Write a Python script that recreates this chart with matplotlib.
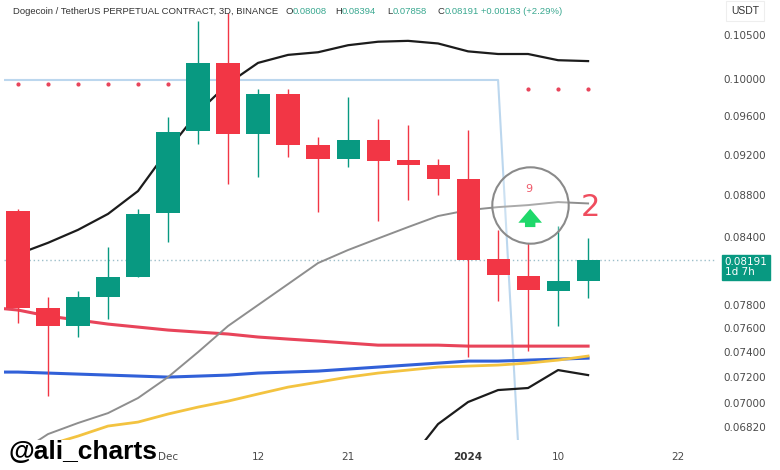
import numpy as np
import matplotlib
matplotlib.use("Agg")
import matplotlib.pyplot as plt

nan = np.nan

# 3D candles, DOGE/USDT perp (Binance)
opens = [0.0865, 0.0777, 0.0762, 0.0787, 0.0804, 0.0863, 0.0944, 0.1018, 0.0941, 0.0984,
         0.0930, 0.0916, 0.0935, 0.0915, 0.0910, 0.0896, 0.0820, 0.0805, 0.0792, 0.08008]
highs = [0.0867, 0.0787, 0.0792, 0.0831, 0.0867, 0.0959, 0.1066, 0.1075, 0.0989, 0.0989,
         0.0938, 0.0980, 0.0957, 0.0951, 0.0916, 0.0945, 0.0847, 0.0835, 0.0851, 0.08394]
lows = [0.0764, 0.0705, 0.0753, 0.0768, 0.0804, 0.0836, 0.0931, 0.0891, 0.0898, 0.0918,
        0.0864, 0.0908, 0.0855, 0.0875, 0.0880, 0.0736, 0.0783, 0.0741, 0.0762, 0.07858]
closes = [0.0777, 0.0762, 0.0787, 0.0804, 0.0862, 0.0943, 0.1018, 0.0941, 0.0984, 0.0930,
          0.0916, 0.0935, 0.0914, 0.0910, 0.0896, 0.0819, 0.0806, 0.0793, 0.0801, 0.08191]

# indicator lines, one value per bar from bar -1 to bar 19
ma_red = [0.07779, 0.07754, 0.07703, 0.07669, 0.07635, 0.0761, 0.07585, 0.07568, 0.07552, 0.07527,
          0.0751, 0.07494, 0.07477, 0.0746, 0.0746, 0.0746, 0.07452, 0.07452, 0.07452, 0.07452, 0.07452]
ma_blue = [0.07242, 0.07242, 0.07234, 0.07226, 0.07218, 0.0721, 0.07202, 0.0721, 0.07218, 0.07234,
           0.07242, 0.0725, 0.07266, 0.07282, 0.07298, 0.07314, 0.0733, 0.0733, 0.07338, 0.07346, 0.07354]
ma_yellow = [nan, 0.0655, 0.06683, 0.06749, 0.06824, 0.06854, 0.06915, 0.06968, 0.07014, 0.07069,
             0.07123, 0.07162, 0.07202, 0.07234, 0.07258, 0.07282, 0.0729, 0.07298, 0.07314, 0.07338, 0.07371]
bb_mid = [nan, 0.0662, 0.06764, 0.06847, 0.06922, 0.07038, 0.07202, 0.07403, 0.07619, 0.07797,
          0.07979, 0.08166, 0.08284, 0.0839, 0.08496, 0.0860, 0.08656, 0.08685, 0.08704, 0.08733, 0.0872]
bb_upper = [nan, 0.08247, 0.0835, 0.0847, 0.0862, 0.0884, 0.0925, 0.0964, 0.0995, 0.1018,
            0.1027, 0.1030, 0.1038, 0.1042, 0.1043, 0.1040, 0.1031, 0.1028, 0.1028, 0.1021, 0.1020]
bb_lower = [nan, nan, nan, nan, nan, nan, nan, nan, nan, nan,
            nan, nan, nan, 0.0629, 0.06558, 0.06839, 0.07007, 0.0710, 0.07116, 0.07258, 0.07218]
trail = [0.0999] * 18 + [0.0548, nan, nan]

dots_left_x = [0, 1, 2, 3, 4, 5]
dots_left_y = [0.09945] * 6
dots_right_x = [17, 18, 19]
dots_right_y = [0.0989] * 3

yticks = [0.105, 0.100, 0.096, 0.092, 0.088, 0.084, 0.078, 0.076, 0.074, 0.072, 0.070, 0.0682]
date_pos = [5, 8, 11, 15, 18, 22]
date_labels = ["Dec", "12", "21", "2024", "10", "22"]

last_price = 0.08191

W, H = 780, 470
GREEN = "#089981"
RED = "#f23645"

fig = plt.figure(figsize=(7.8, 4.7), dpi=100)
ax = fig.add_axes([4 / W, 1 - 440 / H, (715 - 4) / W, 440 / H])

bars = np.arange(len(opens))
line_x = np.arange(-1, len(opens))

ax.set_yscale("log")
ax.set_xlim(-0.467, 23.23)
ax.set_ylim(0.0672, 0.1091)

# lines behind the candles
ax.plot(line_x, trail, color="#bcd7ee", lw=1.5, zorder=1)
ax.axhline(last_price, color="#9dbfca", lw=1, ls=(0, (1, 2)), zorder=1)
ax.plot(line_x, ma_red, color="#e8445a", lw=2.2, zorder=2)
ax.plot(line_x, ma_blue, color="#3160d8", lw=2.2, zorder=2)
ax.plot(line_x, ma_yellow, color="#f3c340", lw=2, zorder=2)
ax.plot(line_x, bb_mid, color="#8e8e8e", lw=1.4, zorder=2)
ax.plot(line_x, bb_upper, color="#1c1c1c", lw=1.6, zorder=2)
ax.plot(line_x, bb_lower, color="#1c1c1c", lw=1.6, zorder=2)
ax.scatter(dots_left_x, dots_left_y, s=4, color="#e8445a", zorder=2)
ax.scatter(dots_right_x, dots_right_y, s=4, color="#e8445a", zorder=2)

# candles
o = np.array(opens); c = np.array(closes)
cols = [GREEN if cc >= oo else RED for oo, cc in zip(o, c)]
ax.vlines(bars, lows, highs, colors=cols, lw=1, zorder=3)
ax.bar(bars, np.abs(c - o), bottom=np.minimum(o, c), width=0.77, color=cols, zorder=4)

# TD sequential style markup
cx, cy = 17.07, 0.08704
ax.plot([cx], [cy], marker="o", ms=55, mfc=(1, 1, 1, 0.25), mec="#8a8a8a", mew=1.5, zorder=5)
ax.text(17.03, 0.08859, "9", color="#ef5a6a", fontsize=8, ha="center", va="center", zorder=6)
ax.annotate("", xy=(17.07, 0.08695), xytext=(17.07, 0.0847),
            arrowprops=dict(arrowstyle="simple,head_length=1.0,head_width=1.7,tail_width=0.75",
                            color="#1fd86a", lw=0), zorder=6)
ax.text(19.07, 0.0868, "2", color="#ef4d5e", fontsize=22, ha="center", va="center", zorder=6)

# axes styling
for s in ax.spines.values():
    s.set_visible(False)
ax.yaxis.tick_right()
ax.set_yticks(yticks)
ax.set_yticklabels(["%.5f" % v for v in yticks])
ax.yaxis.set_minor_locator(matplotlib.ticker.NullLocator())
ax.tick_params(axis="y", length=0, pad=6, labelsize=7.5, labelcolor="#4a4a4a")
ax.set_xticks(date_pos)
ax.set_xticklabels(date_labels)
ax.tick_params(axis="x", length=0, pad=9, labelsize=7.5, labelcolor="#4a4a4a")
for lab in ax.get_xticklabels():
    if lab.get_text() == "2024":
        lab.set_fontweight("bold")
        lab.set_color("#333333")

# last price tag
ax.annotate("0.08191\n1d 7h", xy=(1.0, last_price), xycoords=("axes fraction", "data"),
            xytext=(7, -5), textcoords="offset points", ha="left", va="center",
            color="white", fontsize=7.5, linespacing=1.0,
            bbox=dict(boxstyle="square,pad=0.25", fc=GREEN, ec=GREEN), annotation_clip=False)

# header
renderer = fig.canvas.get_renderer()
dark = "#333333"
teal = "#3aa890"
ty = 1 - 11 / H
fs = 6.8
fig.text(13 / W, ty, "Dogecoin / TetherUS PERPETUAL CONTRACT, 3D, BINANCE", color=dark,
         fontsize=fs, family="Liberation Sans", va="center")
header = [(285, "O", "0.08008"), (335, "H", "0.08394"), (387, "L", "0.07858"),
          (438, "C", "0.08191"), (481, "", "+0.00183 (+2.29%)")]
for x0, letter, val in header:
    x = x0
    if letter:
        t = fig.text(x / W, ty, letter, color=dark, fontsize=fs, family="Liberation Sans", va="center")
        x += t.get_window_extent(renderer).width
    fig.text(x / W, ty, val, color=teal, fontsize=fs, family="Liberation Sans", va="center")

fig.text(745 / W, ty, "USDT", color=dark, fontsize=7.5, family="Liberation Sans",
         ha="center", va="center",
         bbox=dict(boxstyle="square,pad=0.5", fc="white", ec="#eeeeee", lw=0.8))

fig.text(8 / W, 1 - 459 / H, "@ali_charts", color="black", fontsize=19, fontweight="bold",
         family=["Liberation Sans Narrow", "Liberation Sans"], va="baseline")

fig.savefig("out.png", dpi=100, facecolor="white")
